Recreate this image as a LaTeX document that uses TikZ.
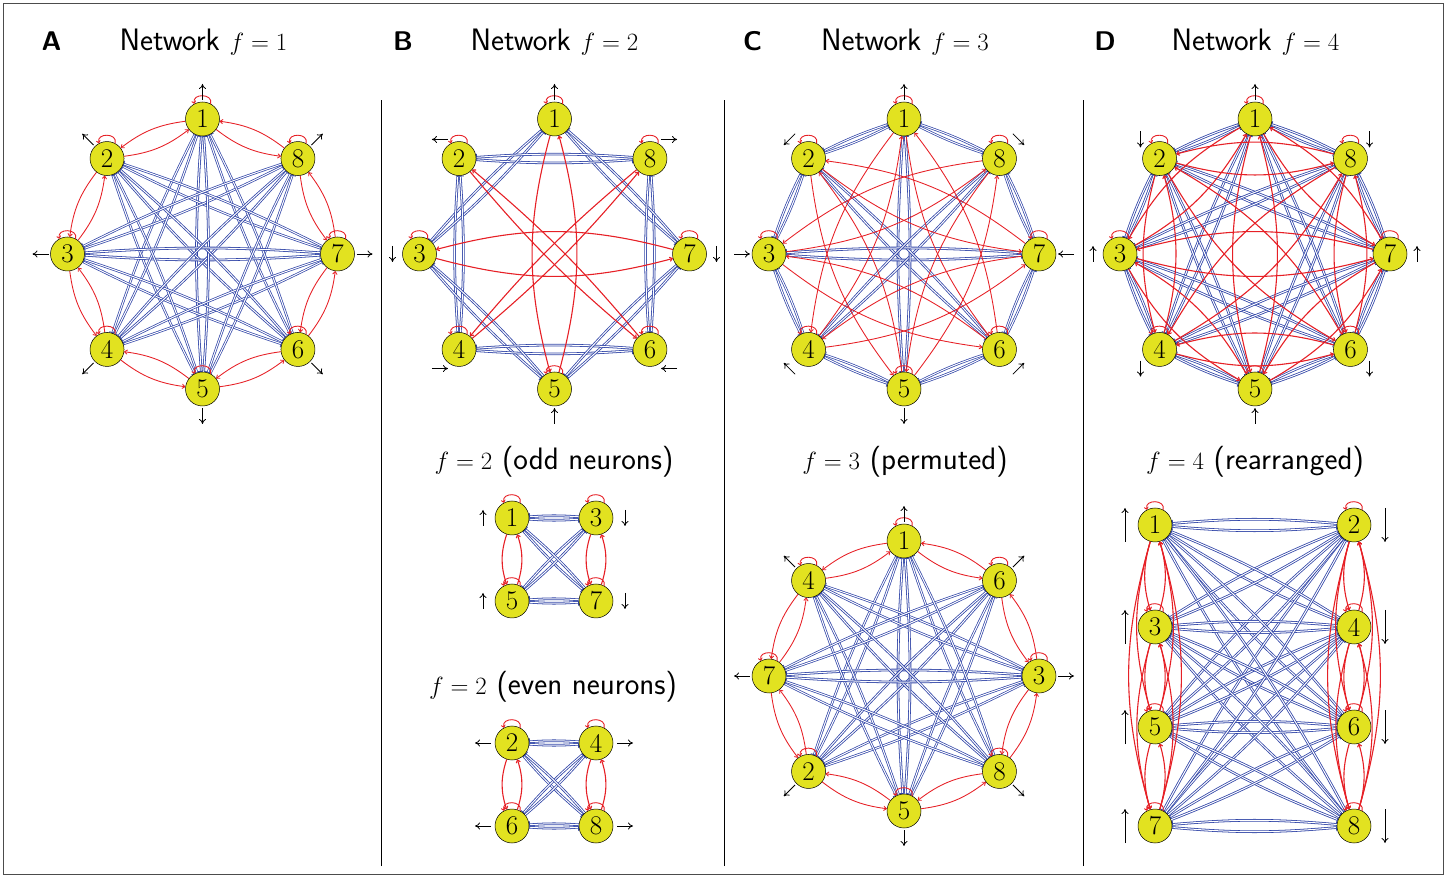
\documentclass[tikz,border=0pt]{standalone}
\usetikzlibrary{arrows.meta,calc}
\definecolor{nyel}{RGB}{226,226,32}
\definecolor{eblue}{RGB}{50,70,168}
\definecolor{ered}{RGB}{230,32,38}
\pgfdeclarelayer{bg}
\pgfsetlayers{bg,main}
\tikzset{
 neuron/.style={circle, draw=black, line width=0.5pt, fill=nyel, minimum size=34pt, inner sep=0pt, font=\fontsize{27}{27}\selectfont},
 exc/.style={draw=ered, -{To[length=3.5pt,width=5pt]}},
 inh/.style={draw=eblue, double=white, double distance=1pt, -{Bar[width=7pt]}},
 selfloop/.style={draw=ered, line width=0.9pt, -{To[length=3pt,width=4.5pt]}},
 extin/.style={draw=black, line width=0.8pt, -{To[length=5pt,width=7pt]}},
 title/.style={font=\sffamily\fontsize{31}{31}\selectfont, anchor=base},
 plabel/.style={font=\sffamily\bfseries\fontsize{27}{27}\selectfont, anchor=base},
 framebox/.style={draw=black!70, line width=0.8pt},
 sepline/.style={draw=black, line width=1pt},
}
% edges: #1 prefix, #2 f, #3 labels, #4 red bend (odd source), #5 blue bend, #6 red bend (even source)
\newcommand\netedges[6]{%
 \begin{pgfonlayer}{bg}
  \foreach \i in {#3}{\foreach \j in {#3}{%
    \ifnum\i=\j\relax\else
      \pgfmathtruncatemacro\w{round(100*cos(45*#2*(\i-\j)))}%
      \ifnum\w<0
        \pgfmathsetmacro\lw{0.55+0.25*abs(\w)/100}%
        \draw[inh, line width=\lw pt] (#1\i) to[bend right=#5] (#1\j);
      \fi
    \fi}}
  \foreach \i in {#3}{\foreach \j in {#3}{%
    \ifnum\i=\j\relax\else
      \pgfmathtruncatemacro\w{round(100*cos(45*#2*(\i-\j)))}%
      \ifnum\w>0
        \pgfmathsetmacro\lw{0.3+0.8*\w/100}%
        \pgfmathtruncatemacro\odd{mod(\i,2)}%
        \ifnum\odd=1
          \draw[exc, line width=\lw pt] (#1\i) to[bend right=#4] (#1\j);
        \else
          \draw[exc, line width=\lw pt] (#1\i) to[bend right=#6] (#1\j);
        \fi
      \fi
    \fi}}
 \end{pgfonlayer}
}
% circular network: #1 prefix, #2 cx, #3 cy, #4 f, #5 placement factor, #6 even red bend
\newcommand\circnet[6]{%
  \foreach \k in {1,...,8}{%
    \pgfmathsetmacro\th{90+45*#5*(\k-1)}%
    \node[neuron] (#1\k) at ({#2+135*cos(\th)},{#3+135*sin(\th)}) {\k};
  }%
  \foreach \k in {1,...,8}{%
    \pgfmathsetmacro\th{90+45*#5*(\k-1)}%
    \pgfmathsetmacro\ph{90+45*#4*(\k-1)}%
    \draw[selfloop] (#1\k.62) .. controls +(75:11) and +(105:11) .. (#1\k.118);
    \draw[extin] ($(#1\k)+(\th:27)-(\ph:8)$) -- ($(#1\k)+(\th:27)+(\ph:8)$);
  }%
  \netedges{#1}{#4}{1,2,3,4,5,6,7,8}{15}{4}{#6}%
}
\newcommand\extarr[4]{\draw[extin] ($(#1)+(#2,0)-(#3:#4)$) -- ($(#1)+(#2,0)+(#3:#4)$);}
\newcommand\sloop[1]{\draw[selfloop] (#1.62) .. controls +(75:11) and +(105:11) .. (#1.118);}

\begin{document}
\begin{tikzpicture}[x=1pt,y=1pt]
\useasboundingbox (0,0) rectangle (1447,878);
\draw[framebox] (3.5,3.5) rectangle (1443.5,874.5);
\draw[sepline] (381,12) -- (381,778);
\draw[sepline] (724,12) -- (724,778);
\draw[sepline] (1083,12) -- (1083,778);

% titles
\node[plabel] at (51.5,827) {A};
\node[title] at (203.5,827) {Network $f=1$};
\node[plabel] at (403,827) {B};
\node[title] at (554.5,827) {Network $f=2$};
\node[plabel] at (752.5,827) {C};
\node[title] at (905,827) {Network $f=3$};
\node[plabel] at (1105,827) {D};
\node[title] at (1255.5,827) {Network $f=4$};

\node[title] at (554,408) {$f=2$ (odd neurons)};
\node[title] at (553,183) {$f=2$ (even neurons)};
\node[title] at (905,408) {$f=3$ (permuted)};
\node[title] at (1255,408) {$f=4$ (rearranged)};

% circular networks
\circnet{a}{202.5}{624}{1}{1}{15}
\circnet{b}{554.5}{624}{2}{1}{5}
\circnet{c}{904}{624}{3}{1}{15}
\circnet{d}{1255}{624}{4}{1}{15}
\circnet{p}{904}{202}{3}{3}{15}

% B: odd neurons
\node[neuron] (o1) at (512,360) {1};
\node[neuron] (o3) at (596,360) {3};
\node[neuron] (o5) at (512,277) {5};
\node[neuron] (o7) at (596,277) {7};
\foreach \n in {o1,o3,o5,o7}{\sloop{\n}}
\extarr{o1}{-29}{90}{8}
\extarr{o5}{-29}{90}{8}
\extarr{o3}{29}{270}{8}
\extarr{o7}{29}{270}{8}
\netedges{o}{2}{1,3,5,7}{18}{4}{18}

% B: even neurons
\node[neuron] (e2) at (512,135) {2};
\node[neuron] (e4) at (596,135) {4};
\node[neuron] (e6) at (512,52) {6};
\node[neuron] (e8) at (596,52) {8};
\foreach \n in {e2,e4,e6,e8}{\sloop{\n}}
\extarr{e2}{-29}{180}{8}
\extarr{e6}{-29}{180}{8}
\extarr{e4}{29}{0}{8}
\extarr{e8}{29}{0}{8}
\netedges{e}{2}{2,4,6,8}{18}{4}{18}

% D: rearranged
\node[neuron] (r1) at (1155,353) {1};
\node[neuron] (r3) at (1155,251) {3};
\node[neuron] (r5) at (1155,151) {5};
\node[neuron] (r7) at (1155,52) {7};
\node[neuron] (r2) at (1354,353) {2};
\node[neuron] (r4) at (1354,251) {4};
\node[neuron] (r6) at (1354,151) {6};
\node[neuron] (r8) at (1354,52) {8};
\foreach \n in {r1,r2,r3,r4,r5,r6,r7,r8}{\sloop{\n}}
\foreach \n in {r1,r3,r5,r7}{\extarr{\n}{-30}{90}{17}}
\foreach \n in {r2,r4,r6,r8}{\extarr{\n}{31}{270}{17}}
\netedges{r}{4}{1,2,3,4,5,6,7,8}{16}{5}{16}
\end{tikzpicture}
\end{document}
